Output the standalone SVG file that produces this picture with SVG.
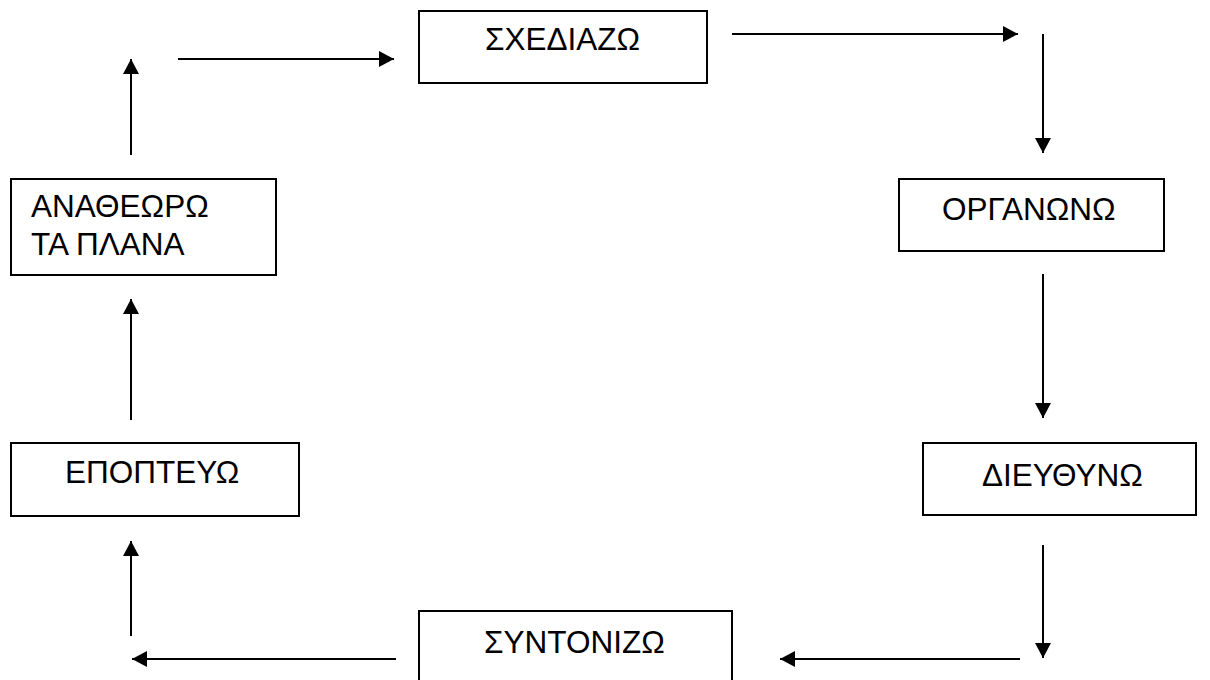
<svg xmlns="http://www.w3.org/2000/svg" width="1210" height="680" viewBox="0 0 1210 680">
  <style>
    .box { fill: #ffffff; stroke: #000000; stroke-width: 2; }
    .label { font-family: "Liberation Sans", Arial, sans-serif; font-size: 31.5px; fill: #000000; }
    .edge { stroke: #000000; stroke-width: 2; fill: none; marker-end: url(#head); }
  </style>
  <defs>
    <marker id="head" markerWidth="16" markerHeight="16" viewBox="0 0 16 16" refX="15" refY="8" orient="auto" markerUnits="userSpaceOnUse">
      <path d="M0,0 L15,8 L0,16 Z" fill="#000000"/>
    </marker>
  </defs>

  <rect width="1210" height="680" fill="#ffffff"/>

  <g id="connectors">
    <line class="edge" x1="178" y1="59" x2="394" y2="59"/>
    <line class="edge" x1="732" y1="34" x2="1018" y2="34"/>
    <line class="edge" x1="1043" y1="34" x2="1043" y2="153"/>
    <line class="edge" x1="1043" y1="274" x2="1043" y2="418"/>
    <line class="edge" x1="1043" y1="545" x2="1043" y2="658"/>
    <line class="edge" x1="1020" y1="659" x2="780" y2="659"/>
    <line class="edge" x1="396" y1="659" x2="132" y2="659"/>
    <line class="edge" x1="131" y1="636" x2="131" y2="541"/>
    <line class="edge" x1="131" y1="420" x2="131" y2="299"/>
    <line class="edge" x1="131" y1="155" x2="131" y2="59"/>
  </g>

  <g id="node-sxediazo">
    <rect class="box" x="419" y="11" width="288" height="72"/>
    <text class="label" x="485" y="50">ΣΧΕΔΙΑΖΩ</text>
  </g>

  <g id="node-organono">
    <rect class="box" x="899" y="179" width="265" height="72"/>
    <text class="label" x="942" y="220">ΟΡΓΑΝΩΝΩ</text>
  </g>

  <g id="node-dieythyno">
    <rect class="box" x="923" y="443" width="273" height="72"/>
    <text class="label" x="982" y="486">ΔΙΕΥΘΥΝΩ</text>
  </g>

  <g id="node-syntonizo">
    <rect class="box" x="419" y="611" width="313" height="80"/>
    <text class="label" x="484" y="653">ΣΥΝΤΟΝΙΖΩ</text>
  </g>

  <g id="node-epopteyo">
    <rect class="box" x="11" y="443" width="288" height="73"/>
    <text class="label" x="65" y="483">ΕΠΟΠΤΕΥΩ</text>
  </g>

  <g id="node-anatheoro">
    <rect class="box" x="11" y="179" width="265" height="96"/>
    <text class="label" x="31" y="217">ΑΝΑΘΕΩΡΩ</text>
    <text class="label" x="31" y="255">ΤΑ ΠΛΑΝΑ</text>
  </g>
</svg>
